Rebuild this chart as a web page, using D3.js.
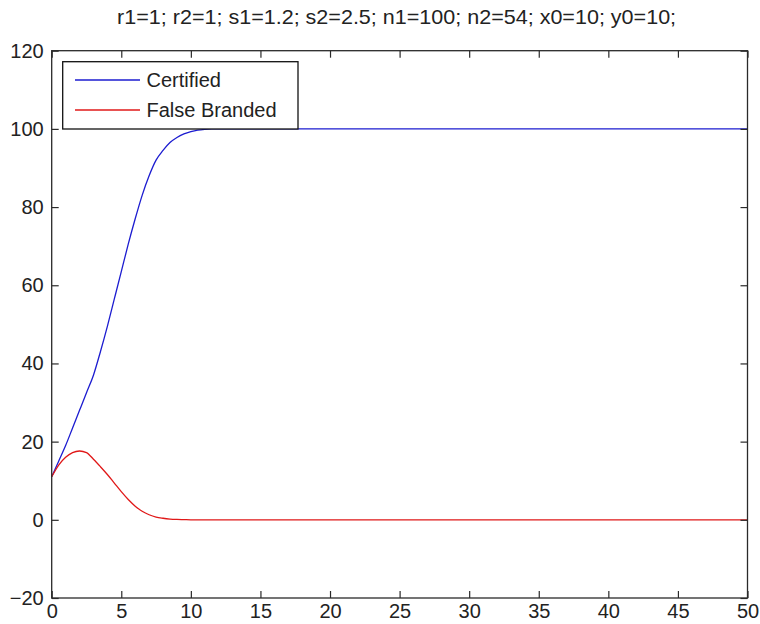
<!DOCTYPE html>
<html>
<head>
<meta charset="utf-8">
<script src="https://cdn.jsdelivr.net/npm/d3@7/dist/d3.min.js"></script>
<style>
  html, body { margin: 0; padding: 0; background: #fff; }
  svg { display: block; }
  text { font-family: "Liberation Sans", Arial, sans-serif; fill: #222; }
</style>
</head>
<body>
<svg id="chart" width="760" height="624"></svg>
<script>
// ---- data ----
const titleText = "r1=1; r2=1; s1=1.2; s2=2.5; n1=100; n2=54; x0=10; y0=10;";
const seriesNames = ["Certified", "False Branded"];
const seriesColors = ["#1c1cd0", "#e01818"];
const tValues = [0, 0.5, 1, 1.5, 2, 2.5, 3, 3.5, 4, 4.5, 5, 5.5, 6, 6.5, 7, 7.5, 8, 8.5, 9, 9.5, 10, 10.5, 11, 11.5, 12, 15, 20, 25, 30, 35, 40, 45, 50];
const certified = [11, 15, 19, 23.5, 28, 32.5, 37, 43, 49.5, 56.5, 63.5, 70.5, 77, 83, 88, 92, 94.5, 96.5, 97.8, 98.7, 99.3, 99.7, 99.9, 100, 100, 100, 100, 100, 100, 100, 100, 100, 100];
const falseBranded = [11, 14, 16, 17.2, 17.6, 17.2, 15.5, 13.6, 11.6, 9.4, 7.2, 5.2, 3.5, 2.2, 1.3, 0.7, 0.4, 0.2, 0.1, 0.05, 0, 0, 0, 0, 0, 0, 0, 0, 0, 0, 0, 0, 0];
const xTicks = [0, 5, 10, 15, 20, 25, 30, 35, 40, 45, 50];
const yTicks = [-20, 0, 20, 40, 60, 80, 100, 120];

// ---- layout ----
const svg = d3.select("#chart");
const L = 51.7, R = 747.5, T = 50.7, B = 598;
const x = d3.scaleLinear().domain([0, 50]).range([L, R]);
const y = d3.scaleLinear().domain([-20, 120]).range([B, T]);
const axisColor = "#2a2a2a";

// curves
const line = d3.line().x((d, i) => x(tValues[i])).y(d => y(d)).curve(d3.curveMonotoneX);
[certified, falseBranded].forEach((s, k) => {
  svg.append("path").datum(s)
    .attr("d", line)
    .attr("fill", "none")
    .attr("stroke", seriesColors[k])
    .attr("stroke-width", 1.3);
});

// axes: box with inward ticks on all sides
const tickLen = 7;
function styleAxis(g) {
  g.selectAll("path.domain").remove();
  g.selectAll("line").attr("stroke", axisColor).attr("stroke-width", 1.2);
  g.selectAll("text").style("font-size", "20px").attr("fill", "#222");
}
svg.append("g").attr("transform", `translate(0,${B})`)
  .call(d3.axisBottom(x).tickValues(xTicks).tickSize(-tickLen).tickFormat(d3.format("d")))
  .call(styleAxis)
  .selectAll("text").attr("dy", "0.71em").attr("y", 5.5);
svg.append("g").attr("transform", `translate(0,${T})`)
  .call(d3.axisTop(x).tickValues(xTicks).tickSize(-tickLen).tickFormat(""))
  .call(styleAxis);
svg.append("g").attr("transform", `translate(${L},0)`)
  .call(d3.axisLeft(y).tickValues(yTicks).tickSize(-tickLen).tickPadding(8).tickFormat(d3.format("d")))
  .call(styleAxis);
svg.append("g").attr("transform", `translate(${R},0)`)
  .call(d3.axisRight(y).tickValues(yTicks).tickSize(-tickLen).tickFormat(""))
  .call(styleAxis);

svg.append("rect")
  .attr("x", L).attr("y", T).attr("width", R - L).attr("height", B - T)
  .attr("fill", "none").attr("stroke", axisColor).attr("stroke-width", 1.3);

// title
svg.append("text")
  .attr("x", (L + R) / 2 - 3).attr("y", 24)
  .attr("text-anchor", "middle")
  .attr("textLength", 559).attr("lengthAdjust", "spacingAndGlyphs")
  .style("font-size", "21px")
  .text(titleText);

// legend
const lg = svg.append("g");
lg.append("rect")
  .attr("x", 62.7).attr("y", 61.7).attr("width", 298 - 62.7).attr("height", 129 - 61.7)
  .attr("fill", "#fff").attr("stroke", "#111").attr("stroke-width", 1.3);
seriesNames.forEach((name, k) => {
  const ly = 80 + k * 30;
  lg.append("line").attr("x1", 75).attr("x2", 140).attr("y1", ly).attr("y2", ly)
    .attr("stroke", seriesColors[k]).attr("stroke-width", 1.3);
  lg.append("text").attr("x", 146.5).attr("y", ly).attr("dy", "0.35em")
    .style("font-size", "20px").text(name);
});
</script>
</body>
</html>
